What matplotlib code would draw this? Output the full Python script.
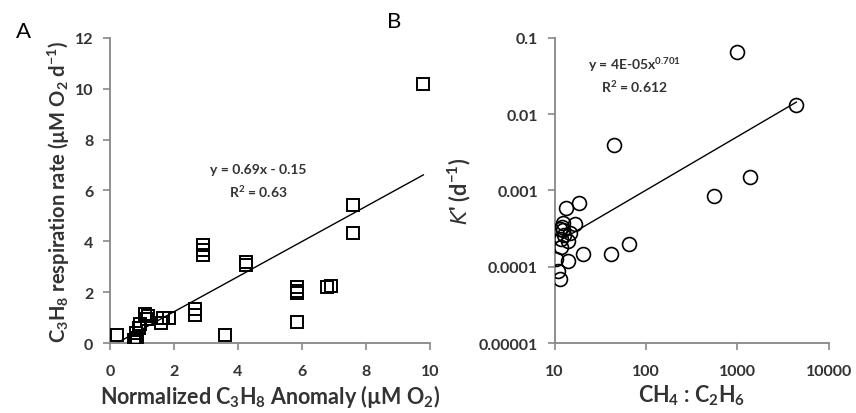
import numpy as np
import matplotlib
matplotlib.use('Agg')
from matplotlib import pyplot as plt
from matplotlib.ticker import FixedLocator, FixedFormatter, NullLocator

plt.rcParams['font.family'] = ['Lato', 'DejaVu Sans']
plt.rcParams['mathtext.default'] = 'regular'

# panel A: normalized C3H8 anomaly vs respiration rate
anomalyA = [0.23, 0.75, 0.8, 0.85, 0.8, 0.9, 0.95, 1.1, 1.15, 1.2, 1.6, 1.65, 1.85,
            2.65, 2.65, 2.9, 2.9, 2.9, 3.6, 4.25, 4.25, 5.85, 5.85, 5.85, 5.85,
            6.8, 6.9, 7.6, 7.6, 9.8]
rateA = [0.3, 0.1, 0.05, 0.2, 0.4, 0.6, 0.75, 1.15, 0.95, 1.05, 0.8, 1.0, 1.0,
         1.35, 1.1, 3.85, 3.65, 3.45, 0.3, 3.2, 3.05, 2.2, 2.05, 1.95, 0.83,
         2.2, 2.25, 5.42, 4.33, 10.2]
slopeA, interceptA = 0.69, -0.15

# panel B: CH4:C2H6 ratio vs K'
ratioB = [980, 4430, 44.6, 1380, 556, 64.6, 41.7, 20.4, 18.5, 13.4, 12.3, 16.6,
          12.3, 14.6, 11.8, 14.0, 11.8, 10.4, 14.0, 10.9, 11.3, 12.0, 12.8, 11.5]
kB = [0.065, 0.0132, 0.0039, 0.0015, 0.00084, 0.0002, 0.000148, 0.000145, 0.00069,
      0.00059, 0.00038, 0.00036, 0.0003, 0.00028, 0.00023, 0.00022, 0.00018,
      0.000126, 0.00012, 0.000089, 0.000069, 0.00033, 0.00026, 0.00031]
coefB, expB = 4e-05, 0.701

text_c = '#333333'
spine_c = '#878787'

fig = plt.figure(figsize=(8.56, 4.14), dpi=100)
axA = fig.add_axes([0.1285, 0.169, 0.3735, 0.737])
axB = fig.add_axes([0.648, 0.169, 0.320, 0.737])

for ax in (axA, axB):
    ax.spines['top'].set_visible(False)
    ax.spines['right'].set_visible(False)
    for s in ('left', 'bottom'):
        ax.spines[s].set_color(spine_c)
        ax.spines[s].set_linewidth(1.3)
    ax.tick_params(direction='out', length=5, width=1.2, color=spine_c,
                   labelcolor=text_c, labelsize=11.5)
    ax.tick_params(axis='x', pad=10)
    ax.tick_params(axis='y', pad=7)
    ax.patch.set_alpha(0)

# --- A ---
axA.plot(anomalyA, rateA, linestyle='none', marker='s', ms=9, mfc='none',
         mec='black', mew=1.4, zorder=3)
xfit = np.array([min(anomalyA), max(anomalyA)])
axA.plot(xfit, slopeA * xfit + interceptA, color='black', lw=1.0, zorder=2)
axA.set_xlim(0, 10)
axA.set_ylim(0, 12)
axA.set_xticks(range(0, 11, 2))
axA.set_yticks(range(0, 13, 2))
for lab in axA.get_xticklabels() + axA.get_yticklabels():
    lab.set_fontweight('bold')
axA.set_xlabel('Normalized C$_3$H$_8$ Anomaly (\u00b5M O$_2$)',
               fontsize=15.5, fontweight='bold', color=text_c, labelpad=3)
axA.set_ylabel('C$_3$H$_8$ respiration rate (\u00b5M O$_2$ d$^{-1}$)',
               fontsize=14.5, fontweight='bold', color=text_c, labelpad=2)
axA.text(4.63, 6.85, 'y = 0.69x - 0.15', ha='center', va='center',
         fontsize=10, fontweight='bold', color=text_c)
axA.text(4.63, 5.98, 'R$^2$ = 0.63', ha='center', va='center',
         fontsize=10, fontweight='bold', color=text_c)
fig.text(0.027, 0.922, 'A', fontsize=16, color='black', ha='center', va='center')

# --- B ---
axB.set_xscale('log')
axB.set_yscale('log')
axB.plot(ratioB, kB, linestyle='none', marker='o', ms=10, mfc='none',
         mec='black', mew=1.2, zorder=3)
xb = np.array([min(ratioB), max(ratioB)])
axB.plot(xb, coefB * xb ** expB, color='black', lw=1.0, zorder=2)
axB.set_xlim(10, 10000)
axB.set_ylim(1e-5, 0.1)
axB.xaxis.set_major_locator(FixedLocator([10, 100, 1000, 10000]))
axB.xaxis.set_major_formatter(FixedFormatter(['10', '100', '1000', '10000']))
axB.yaxis.set_major_locator(FixedLocator([1e-5, 1e-4, 1e-3, 1e-2, 1e-1]))
axB.yaxis.set_major_formatter(FixedFormatter(['0.00001', '0.0001', '0.001', '0.01', '0.1']))
axB.xaxis.set_minor_locator(NullLocator())
axB.yaxis.set_minor_locator(NullLocator())
for lab in axB.get_xticklabels() + axB.get_yticklabels():
    lab.set_fontweight('bold')
axB.set_xlabel('CH$_4$ : C$_2$H$_6$', fontsize=15.5, fontweight='bold',
               color=text_c, labelpad=3)
axB.set_ylabel("$\\mathit{K}$' (d$^{-1}$)", fontsize=15.5, fontweight='bold',
               color=text_c, labelpad=4)
axB.text(0.29, 0.915, 'y = 4E-05x$^{0.701}$', transform=axB.transAxes,
         ha='center', va='center', fontsize=10, fontweight='bold', color=text_c)
axB.text(0.29, 0.843, 'R$^2$ = 0.612', transform=axB.transAxes,
         ha='center', va='center', fontsize=10, fontweight='bold', color=text_c)
fig.text(0.46, 0.948, 'B', fontsize=16, color='black', ha='center', va='center')

fig.savefig('out.png', dpi=100)
